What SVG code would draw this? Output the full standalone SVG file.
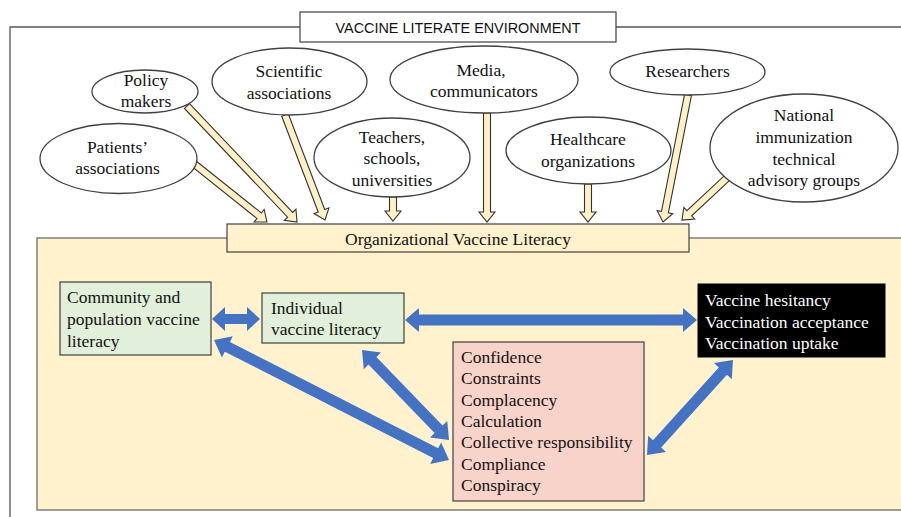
<svg xmlns="http://www.w3.org/2000/svg" width="901" height="517" viewBox="0 0 901 517">
<style>
.serif{font-family:"Liberation Serif","Times New Roman",serif;font-size:17.5px;fill:#111}
.mid{text-anchor:middle}
.ell{fill:#fff;stroke:#404040;stroke-width:1.3}
.box{stroke:#404040;stroke-width:1.2}
.cream{fill:#FFF0C6;stroke:#333;stroke-width:1.1;stroke-linejoin:miter}
.blue{fill:#4472C4;stroke:none}
</style>
<rect width="901" height="517" fill="#fff"/>
<!-- environment frame -->
<g id="environment">
<path d="M10,517 V27 H901" fill="none" stroke="#555" stroke-width="1.3"/>
<rect x="300" y="12" width="316" height="30" fill="#fff" stroke="#404040" stroke-width="1.2"/>
<text x="458" y="33" text-anchor="middle" style="font-family:'Liberation Sans',Arial,sans-serif;font-size:14.4px;fill:#111">VACCINE LITERATE ENVIRONMENT</text>
</g>
<g id="org-area">
<rect x="37" y="238" width="870" height="272" fill="#FFF2CC" stroke="#7f7f7f" stroke-width="1.5"/>
</g>
<g id="org-literacy">
<rect x="227" y="224" width="462" height="28" fill="#FFF2CC" class="box"/>
<text x="458" y="245" class="serif mid">Organizational Vaccine Literacy</text>
</g>
<!-- connectors -->
<g id="connectors">
<g class="cream">
<polygon transform="translate(193,163) rotate(38.56)" points="0,-3.5 84.6,-3.5 84.6,-8 94.6,0 84.6,8 84.6,3.5 0,3.5"/>
<polygon transform="translate(187,106) rotate(46.52)" points="0,-3.5 149.9,-3.5 149.9,-8 159.9,0 149.9,8 149.9,3.5 0,3.5"/>
<polygon transform="translate(285,115) rotate(69.15)" points="0,-3.5 102.4,-3.5 102.4,-8 112.4,0 102.4,8 102.4,3.5 0,3.5"/>
<polygon transform="translate(393,197) rotate(90)" points="0,-3.5 14,-3.5 14,-8 24,0 14,8 14,3.5 0,3.5"/>
<polygon transform="translate(487,113) rotate(90)" points="0,-3.5 99,-3.5 99,-8 109,0 99,8 99,3.5 0,3.5"/>
<polygon transform="translate(588,184) rotate(90)" points="0,-3.5 28,-3.5 28,-8 38,0 28,8 28,3.5 0,3.5"/>
<polygon transform="translate(688,95) rotate(101.14)" points="0,-3.5 119.4,-3.5 119.4,-8 129.4,0 119.4,8 119.4,3.5 0,3.5"/>
<polygon transform="translate(727,178) rotate(136.97)" points="0,-3.5 51.6,-3.5 51.6,-8 61.6,0 51.6,8 51.6,3.5 0,3.5"/>
</g>
<g class="blue">
<polygon transform="translate(212,319)" points="0,0 13,-12 13,-5 35,-5 35,-12 48,0 35,12 35,5 13,5 13,12"/>
<polygon transform="translate(405,320)" points="0,0 14,-12 14,-5.5 278,-5.5 278,-12 292,0 278,12 278,5.5 14,5.5 14,12"/>
<polygon transform="translate(214,340) rotate(27.05)" points="0,0 15,-12 15,-5.5 248.9,-5.5 248.9,-12 263.9,0 248.9,12 248.9,5.5 15,5.5 15,12"/>
<polygon transform="translate(362,350) rotate(45.97)" points="0,0 15,-12 15,-5.5 110.2,-5.5 110.2,-12 125.2,0 110.2,12 110.2,5.5 15,5.5 15,12"/>
<polygon transform="translate(647,455) rotate(-47.85)" points="0,0 15,-12 15,-5.5 113.1,-5.5 113.1,-12 128.1,0 113.1,12 113.1,5.5 15,5.5 15,12"/>
</g>
</g>
<!-- ellipse nodes -->
<g id="patients">
<ellipse cx="118.5" cy="158.5" rx="78.5" ry="35" class="ell"/>
<text x="117.5" y="153" class="serif mid">Patients’</text>
<text x="117.5" y="174" class="serif mid">associations</text>
</g>
<g id="policy">
<ellipse cx="145" cy="91.5" rx="53" ry="21.5" class="ell"/>
<text x="146" y="86" class="serif mid">Policy</text>
<text x="146" y="107" class="serif mid">makers</text>
</g>
<g id="scientific">
<ellipse cx="289.5" cy="81.5" rx="77.5" ry="33.5" class="ell"/>
<text x="289" y="77" class="serif mid">Scientific</text>
<text x="289" y="99" class="serif mid">associations</text>
</g>
<g id="teachers">
<ellipse cx="392" cy="157.5" rx="78" ry="39.5" class="ell"/>
<text x="392" y="143" class="serif mid">Teachers,</text>
<text x="392" y="164" class="serif mid">schools,</text>
<text x="392" y="186" class="serif mid">universities</text>
</g>
<g id="media">
<ellipse cx="484" cy="79.5" rx="94" ry="33.5" class="ell"/>
<text x="481" y="76" class="serif mid">Media,</text>
<text x="484" y="97" class="serif mid">communicators</text>
</g>
<g id="healthcare">
<ellipse cx="588.5" cy="150.5" rx="82.5" ry="33.5" class="ell"/>
<text x="588" y="145" class="serif mid">Healthcare</text>
<text x="588" y="167" class="serif mid">organizations</text>
</g>
<g id="researchers">
<ellipse cx="687.5" cy="72" rx="77.5" ry="23" class="ell"/>
<text x="687.5" y="77" class="serif mid">Researchers</text>
</g>
<g id="nitag">
<ellipse cx="804" cy="148" rx="94" ry="54" class="ell"/>
<text x="804" y="121" class="serif mid">National</text>
<text x="804" y="143" class="serif mid">immunization</text>
<text x="804" y="165" class="serif mid">technical</text>
<text x="804" y="186" class="serif mid">advisory groups</text>
</g>
<!-- boxes -->
<g id="community">
<rect x="60" y="282" width="151" height="73" fill="#E2EFDA" class="box"/>
<text x="67" y="303" class="serif">Community and</text>
<text x="67" y="325" class="serif">population vaccine</text>
<text x="67" y="347" class="serif">literacy</text>
</g>
<g id="individual">
<rect x="262" y="293" width="142" height="50" fill="#E2EFDA" class="box"/>
<text x="271" y="314" class="serif">Individual</text>
<text x="271" y="335" class="serif">vaccine literacy</text>
</g>
<g id="outcomes">
<rect x="698" y="284" width="187" height="73" fill="#000" stroke="#000"/>
<text x="705" y="306" class="serif" style="fill:#fff">Vaccine hesitancy</text>
<text x="705" y="327.5" class="serif" style="fill:#fff">Vaccination acceptance</text>
<text x="705" y="349" class="serif" style="fill:#fff">Vaccination uptake</text>
</g>
<g id="determinants">
<rect x="453" y="342" width="191" height="159" fill="#F8D3CA" class="box"/>
<text x="461" y="363" class="serif">Confidence</text>
<text x="461" y="384.3" class="serif">Constraints</text>
<text x="461" y="405.7" class="serif">Complacency</text>
<text x="461" y="427" class="serif">Calculation</text>
<text x="461" y="448.3" class="serif">Collective responsibility</text>
<text x="461" y="469.7" class="serif">Compliance</text>
<text x="461" y="491" class="serif">Conspiracy</text>
</g>
</svg>
